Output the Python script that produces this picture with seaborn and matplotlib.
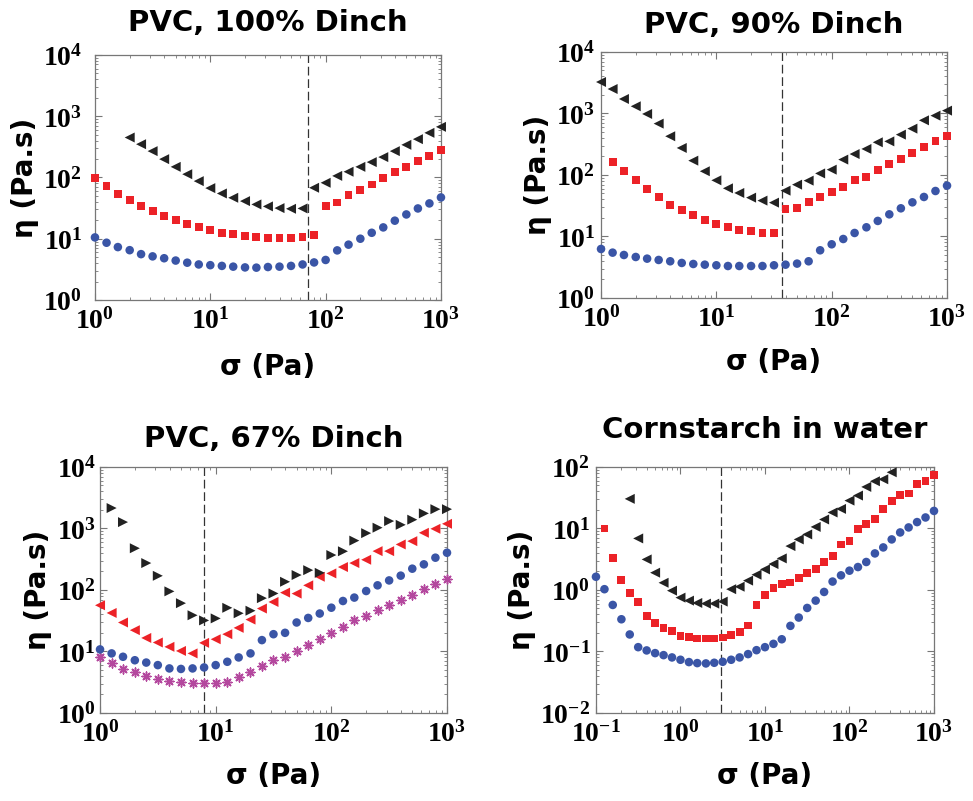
import numpy as np
import pandas as pd
import matplotlib
matplotlib.use("Agg")
import matplotlib.pyplot as plt
import seaborn as sns
from matplotlib.ticker import FuncFormatter, LogLocator, NullFormatter

# ---------------- data ----------------
# shear stress sweep (Pa), 10 points per decade
stress = [1.0, 1.26, 1.58, 2.0, 2.51, 3.16, 3.98, 5.01, 6.31, 7.94,
          10.0, 12.6, 15.8, 20.0, 25.1, 31.6, 39.8, 50.1, 63.1, 79.4,
          100, 126, 158, 200, 251, 316, 398, 501, 631, 794, 1000]
stress_cs = [0.1, 0.126, 0.158, 0.2, 0.251, 0.316, 0.398, 0.501, 0.631, 0.794,
             1.0, 1.26, 1.58, 2.0, 2.51, 3.16, 3.98, 5.01, 6.31, 7.94,
             10.0, 12.6, 15.8, 20.0, 25.1, 31.6, 39.8, 50.1, 63.1, 79.4,
             100, 126, 158, 200, 251, 316, 398, 501, 631, 794, 1000]

titles = ["PVC, 100% Dinch", "PVC, 90% Dinch", "PVC, 67% Dinch", "Cornstarch in water"]
critical_stress = [70, 37, 7.94, 3.0]

# PVC, 100% Dinch
p100_circle = [10.5, 8.6, 7.3, 6.5, 5.6, 5.15, 4.8, 4.4, 4.06, 3.8, 3.7, 3.6, 3.5, 3.4, 3.37, 3.45,
               3.5, 3.6, 3.8, 4.1, 4.5, 6.45, 8.0, 10.0, 12.5, 15.3, 19.7, 24.9, 31.2, 37.7, 47.2]
p100_square = [98.8, 72.3, 53.5, 43.2, 34.1, 28.3, 23.4, 19.9, 17.6, 15.3, 13.8, 12.5, 11.8, 11.2,
               10.8, 10.4, 10.4, 10.4, 10.8, 11.5, 34.5, 39.1, 50.9, 62.9, 76.9, 98.8, 122, 149,
               187, 226, 283]
p100_triangle = [449, 349, 269, 199, 149, 113, 87.1, 67.0, 54.8, 46.6, 41.1, 36.3, 33.7, 31.6,
                 30.8, 31.2, 67.9, 81.9, 106, 124, 149, 178, 215, 269, 341, 422, 535, 670]  # from 2 Pa

# PVC, 90% Dinch
p90_circle = [6.26, 5.46, 5.0, 4.64, 4.36, 4.15, 3.95, 3.71, 3.57, 3.48, 3.40, 3.31, 3.31, 3.31,
              3.31, 3.40, 3.48, 3.62, 3.95, 5.96, 7.46, 9.1, 11.4, 14.1, 17.9, 22.9, 28.7, 35.9,
              43.9, 54.9, 67.1]
p90_square = [161, 117, 83, 60, 43.3, 32.5, 26.6, 22.1, 18.8, 16.2, 14.1, 12.9, 12.1, 11.3, 11.3,
              28.0, 28.7, 35.9, 43.3, 53.6, 63, 81.9, 94, 122, 149, 184, 228, 289, 357, 436]  # from 1.26 Pa
p90_triangle = [3250, 2500, 1720, 1309, 982, 684, 426, 275, 171, 115, 81.9, 60.7, 51, 42.8, 38.3,
                35.5, 55.6, 69.6, 80.9, 106, 122, 178, 219, 265, 340, 352, 453, 567, 774, 922, 1112]

# PVC, 67% Dinch
p67_circle = [10.8, 9.3, 8.2, 7.2, 6.6, 6.0, 5.3, 5.2, 5.3, 5.5, 6.0, 6.8, 8.0, 9.3, 15.3, 19.1,
              20.1, 29.6, 35.1, 41.4, 51.5, 66.2, 75.2, 96.2, 119, 143, 171, 222, 261, 335, 403]
p67_star = [8.2, 6.4, 5.2, 4.57, 4.0, 3.6, 3.3, 3.14, 3.07, 3.07, 3.07, 3.14, 3.88, 4.68, 5.8, 7.4,
            8.2, 10.2, 12.7, 15.8, 20.0, 24.8, 32, 37.8, 46.8, 56.4, 69.8, 84, 105, 127, 149]
p67_ltriangle = [56.4, 42.3, 29.6, 22.2, 16.6, 14.0, 11.9, 10.2, 9.3, 13.8, 15.8, 19.1, 24.2, 33,
                 49.9, 63.8, 90.6, 87.3, 119, 164, 186, 236, 274, 310, 428, 428, 550, 622, 851,
                 988, 1191]
p67_rtriangle = [2150, 1270, 477, 274, 170, 95, 61, 38.8, 32, 34.5, 51.3, 41.8, 46, 73.6, 87.8, 136,
                 175, 210, 190, 370, 426, 635, 840, 1030, 1320, 1147, 1390, 1760, 2060, 2060]  # from 1.26 Pa

# Cornstarch in water
cs_circle = [1.64, 1.03, 0.571, 0.334, 0.189, 0.1175, 0.104, 0.094, 0.0872, 0.080,
             0.0733, 0.0672, 0.0647, 0.0639, 0.0655, 0.068, 0.0733, 0.080, 0.0906, 0.105,
             0.1175, 0.133, 0.158, 0.261, 0.356, 0.510, 0.671, 0.929, 1.37, 1.73,
             2.06, 2.36, 2.85, 3.93, 4.92, 6.64, 8.62, 10.4, 12.7, 15.1, 19.3]
cs_square = [10.0, 3.30, 1.45, 0.906, 0.631, 0.379, 0.295, 0.242, 0.214, 0.1795,
             0.171, 0.1625, 0.1625, 0.1625, 0.1687, 0.186, 0.208, 0.264, 0.571, 0.820,
             1.09, 1.27, 1.32, 1.58, 1.91, 2.22, 2.81, 3.52, 5.5, 6.24,
             9.88, 11.9, 14.4, 20.8, 28.1, 34.7, 37.0, 53.7, 58.6, 75.2]  # from 0.126 Pa
cs_triangle = [30.3, 6.89, 3.14, 1.91, 1.31, 0.975, 0.751, 0.671, 0.615, 0.600,
               0.600, 0.647, 1.03, 1.13, 1.42, 1.77, 2.16, 2.64, 3.26, 5.17,
               6.64, 8.0, 10.6, 14.0, 18.2, 20.8, 28.4, 34.3, 47.4, 58.6, 63.1, 82]  # 0.251 .. 316 Pa

BLUE = "#3A55A6"
RED = "#EC2227"
BLACK = "#222222"
PINK = "#B4489E"

# ---------------- style ----------------
sns.set_style("ticks")
plt.rcParams["font.family"] = ["DejaVu Sans"]
plt.rcParams["text.color"] = "black"
plt.rcParams["axes.labelcolor"] = "black"
plt.rcParams["mathtext.fontset"] = "custom"
plt.rcParams["mathtext.bf"] = "Liberation Serif:bold"
plt.rcParams["mathtext.rm"] = "Liberation Serif:bold"
plt.rcParams["mathtext.it"] = "Liberation Serif:bold"

fig = plt.figure(figsize=(9.73, 8.01), dpi=100)
rects = [[0.0976, 0.6255, 0.3556, 0.3059],
         [0.6177, 0.6280, 0.3556, 0.3071],
         [0.1028, 0.1099, 0.3566, 0.3071],
         [0.6125, 0.1099, 0.3474, 0.3071]]
xlims = [(1, 1000), (1, 1000), (1, 1000), (0.1, 1000)]
ylims = [(1, 1e4), (1, 1e4), (1, 1e4), (0.01, 100)]
title_pads = [17, 14, 14.5, 21]
ytick_pads = [9, 4, 3, 4]
xlabel_pads = [13, 11, 10, 10]

def sci(v, pos):
    e = int(round(np.log10(v)))
    return r"$\mathbf{10^{%d}}$" % e

def draw(ax, x, y, marker, color, size, lw=0):
    df = pd.DataFrame({"x": x, "y": y})
    sns.scatterplot(data=df, x="x", y="y", marker=marker, color=color, s=size,
                    linewidth=lw, edgecolor=color if lw else "none",
                    ax=ax, legend=False, clip_on=False, zorder=3)

axes = [fig.add_axes(r) for r in rects]

draw(axes[0], stress, p100_circle, "o", BLUE, 38)
draw(axes[0], stress, p100_square, "s", RED, 32)
draw(axes[0], stress[3:], p100_triangle, "<", BLACK, 52)

draw(axes[1], stress, p90_circle, "o", BLUE, 38)
draw(axes[1], stress[1:], p90_square, "s", RED, 32)
draw(axes[1], stress, p90_triangle, "<", BLACK, 52)

draw(axes[2], stress, p67_star, (8, 2, 0), PINK, 40, lw=1.1)
draw(axes[2], stress, p67_circle, "o", BLUE, 38)
draw(axes[2], stress, p67_ltriangle, "<", RED, 52)
draw(axes[2], stress[1:], p67_rtriangle, ">", BLACK, 52)

draw(axes[3], stress_cs, cs_circle, "o", BLUE, 38)
draw(axes[3], stress_cs[1:], cs_square, "s", RED, 32)
draw(axes[3], stress_cs[4:36], cs_triangle, "<", BLACK, 52)

for i, ax in enumerate(axes):
    ax.set_xscale("log")
    ax.set_yscale("log")
    ax.set_xlim(*xlims[i])
    ax.set_ylim(*ylims[i])
    ax.axvline(critical_stress[i], color="#333333", lw=0.9, ls=(0, (7, 3)), zorder=2)
    for ax_ in (ax.xaxis, ax.yaxis):
        ax_.set_major_locator(LogLocator(base=10, numticks=20))
        ax_.set_minor_locator(LogLocator(base=10, subs=np.arange(2, 10), numticks=50))
        ax_.set_major_formatter(FuncFormatter(sci))
        ax_.set_minor_formatter(NullFormatter())
    ax.tick_params(which="both", direction="in", top=True, right=True,
                   color="#777777", labelcolor="black", labelsize=20)
    ax.tick_params(which="major", length=5, width=0.8)
    ax.tick_params(which="minor", length=2.5, width=0.6)
    ax.tick_params(axis="y", which="major", pad=ytick_pads[i])
    ax.tick_params(axis="x", which="major", pad=5)
    for sp in ax.spines.values():
        sp.set_color("#777777")
        sp.set_linewidth(0.9)
    ax.set_title(titles[i], fontsize=21, fontweight="bold", pad=title_pads[i], color="black")
    ax.set_xlabel("σ (Pa)", fontsize=20, fontweight="bold", labelpad=xlabel_pads[i])
    ax.set_ylabel("η (Pa.s)", fontsize=20, fontweight="bold", labelpad=3)

fig.savefig("out.png", dpi=100)
